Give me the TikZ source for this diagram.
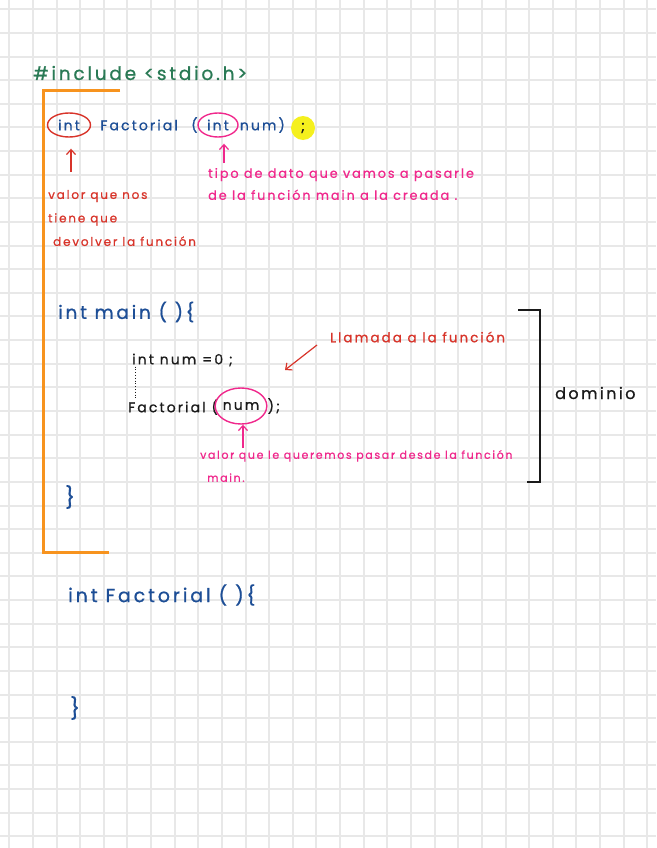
\documentclass[tikz,border=0pt]{standalone}
\usepackage{fontspec}
\setmainfont{Poppins}
\newfontfamily\hand[LetterSpace=15,FakeBold=0.8]{Poppins}
\usepackage{xcolor}
\definecolor{cGrid}{HTML}{E8E8E8}
\definecolor{cGreen}{HTML}{2A7A55}
\definecolor{cOrange}{HTML}{F7931E}
\definecolor{cBlue}{HTML}{1D4E96}
\definecolor{cRed}{HTML}{D8342A}
\definecolor{cPink}{HTML}{F0288C}
\definecolor{cYellow}{HTML}{F5F01E}
\definecolor{cInk}{HTML}{1A1A1A}
\usetikzlibrary{positioning,arrows.meta,shapes.geometric}
\tikzset{
  grid-line/.style={draw=cGrid,line width=2pt},
  code-green/.style={text=cGreen,inner sep=0pt,anchor=west,font=\hand\fontsize{18.5}{20}\selectfont},
  code-blue/.style={text=cBlue,inner sep=0pt,anchor=west,font=\hand\fontsize{14}{16}\selectfont},
  code-blue-big/.style={code-blue,font=\hand\fontsize{18.5}{20}\selectfont},
  code-black/.style={text=cInk,inner sep=0pt,anchor=west,font=\hand\fontsize{14}{16}\selectfont},
  note-red/.style={text=cRed,inner sep=0pt,anchor=west,align=left,font=\hand\fontsize{12}{23.5}\selectfont},
  note-pink/.style={text=cPink,inner sep=0pt,anchor=west,align=left,font=\hand\fontsize{12.8}{22}\selectfont},
  ring-red/.style={ellipse,draw=cRed,line width=1.4pt,anchor=center},
  ring-pink/.style={ellipse,draw=cPink,line width=1.4pt,anchor=center},
  arrow-red/.style={-{Straight Barb[length=5pt,width=9pt]},line width=1.2pt,draw=cRed},
  arrow-pink/.style={-{Straight Barb[length=5pt,width=9pt]},line width=1.2pt,draw=cPink},
  block-line/.style={draw=cOrange,line width=3pt},
  bracket-line/.style={draw=cInk,line width=1.5pt},
}
\begin{document}
\begin{tikzpicture}[x=1pt,y=-1pt]
  \useasboundingbox (0,0) rectangle (656,848);
  \fill[white] (0,0) rectangle (656,848);
  \foreach \k in {0,...,27} \draw[grid-line] ({9.3+23.63*\k},0) -- ++(0,848);
  \foreach \k in {0,...,35} \draw[grid-line] (0,{9.3+23.63*\k}) -- ++(656,0);

  % cabecera y prototipo
  \node[code-green] (include) at (33,73) {\#include <stdio.h>};
  \draw[block-line] (120,91) -- (43,91) -- (43,552) -- (109,552);
  \node[code-blue,ring-red,minimum width=43pt,minimum height=24pt] (ret-type) at (69,125) {int};
  \node[code-blue,right=9pt of ret-type] (proto-name) {Factorial};
  \node[code-blue] (proto-open) at (191,125) {(};
  \node[code-blue,ring-pink,minimum width=40pt,minimum height=24pt] (arg-type) at (218,125) {int};
  \node[code-blue,right=1pt of arg-type] (arg-name) {num)};
  \node[circle,fill=cYellow,minimum size=24pt,inner sep=0pt,text=cInk,font=\hand\fontsize{15}{16}\selectfont] (semi) at (303,128) {;};

  \coordinate (ret-tail) at (71,172);
  \draw[arrow-red,shorten >=11pt] (ret-tail) -- (ret-tail |- ret-type.south);
  \node[note-red] (ret-note) at (48,218) {valor que nos\\tiene que\\\hspace*{5pt}devolver la función};
  \coordinate (arg-tail) at (224,163);
  \draw[arrow-pink,shorten >=6pt] (arg-tail) -- (arg-tail |- arg-type.south);
  \node[note-pink] (arg-note) at (208,184) {tipo de dato que vamos a pasarle\\de la función main a la creada .};

  % main
  \node[code-blue-big] (main-head) at (58,312) {int main ( )\{};
  \node[code-black] (num-decl) at (132,360) {int num =0 ;};
  \node[code-black] (fact-call) at (128,407) {Factorial (};
  \node[code-black,ring-pink,minimum width=50pt,minimum height=36pt] (call-arg) at (241,406) {num};
  \node[code-black,right=0pt of call-arg] (call-end) {);};
  \draw[dotted,thick,cInk] ([xshift=3pt]num-decl.south west) -- ([xshift=3pt]num-decl.south west |- fact-call.north);
  \node[note-red,font=\hand\fontsize{13.5}{14}\selectfont] (call-label) at (330,337) {Llamada a la función};
  \coordinate (call-from) at (317,345);
  \coordinate (call-to) at (285,370);
  \draw[arrow-red] (call-from) -- (call-to);
  \coordinate (call-tail) at (243,448);
  \draw[arrow-pink] (call-tail) -- (call-tail |- call-arg.south);
  \node[note-pink,font=\hand\fontsize{11}{23}\selectfont] (call-note) at (200,466) {valor que le queremos pasar desde la función\\\hspace*{7pt}main.};
  \draw[bracket-line] (518,310) -- (540,310) -- (540,482) -- (527,482);
  \node[code-black,font=\hand\fontsize{16}{18}\selectfont] (domain-label) at (555,393) {dominio};
  \node[code-blue,font=\hand\fontsize{21}{22}\selectfont] (main-close) at (65,497) {\}};

  % definicion
  \node[code-blue-big,font=\hand\fontsize{19}{20}\selectfont] (fact-head) at (68,595) {int Factorial ( )\{};
  \node[code-blue,font=\hand\fontsize{21}{22}\selectfont] (fact-close) at (70,708) {\}};
\end{tikzpicture}
\end{document}
